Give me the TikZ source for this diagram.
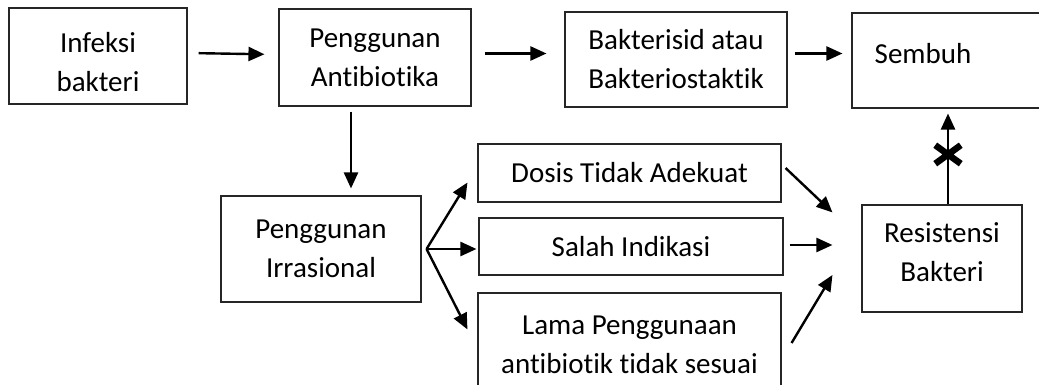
\documentclass[tikz,border=0pt]{standalone}
\usepackage{fontspec}
\setmainfont{Carlito}[Ligatures={NoCommon}]
\usetikzlibrary{arrows.meta,calc,shapes.misc}
\tikzset{
  box/.style={draw=black!85, line width=1.1pt, rectangle, inner sep=0pt, align=center,
    font=\fontsize{29pt}{39pt}\selectfont},
  arr/.style={draw=black, line width=2.4pt, -{Triangle[length=16pt,width=14pt]}},
  txt/.style={inner sep=0pt, align=center, font=\fontsize{29pt}{39pt}\selectfont},
  nocross/.style={cross out, draw=black, line width=6.5pt, minimum width=19pt, minimum height=12pt, inner sep=0pt}
}
\begin{document}
\begin{tikzpicture}[x=1pt,y=-1pt]
\useasboundingbox (0,0) rectangle (1039,385);
\clip (0,0) rectangle (1039,385);
\node[box, minimum width=178pt, minimum height=96pt] (inf) at (98,56) {};
\node[txt] (inft) at (98,62) {Infeksi\\bakteri};
\node[box, minimum width=192pt, minimum height=97pt] (ant) at (375,57.5) {Penggunan\\Antibiotika};
\node[box, minimum width=222pt, minimum height=95pt] (bak) at (676,59.5) {Bakterisid atau\\Bakteriostaktik};
\node[box, minimum width=198pt, minimum height=95pt] (sem) at (951,60.5) {};
\node[txt] (semt) at (923,54) {Sembuh};
\node[box, minimum width=200pt, minimum height=106pt] (irr) at (321,249) {Penggunan\\Irrasional};
\node[box, minimum width=303pt, minimum height=58pt] (dos) at (629.5,173) {Dosis Tidak Adekuat};
\node[box, minimum width=304pt, minimum height=57pt] (sal) at (631,246.5) {Salah Indikasi};
\node[box, minimum width=303pt, minimum height=104pt] (lam) at (629.5,345) {Lama Penggunaan\\antibiotik tidak sesuai};
\node[box, minimum width=160pt, minimum height=107pt] (res) at (942,258.5) {};
\node[txt] (rest) at (942,252) {Resistensi\\Bakteri};

\draw[arr, shorten <=11pt, shorten >=14pt] ([yshift=3pt]inf.east) -- ([yshift=3pt]ant.west);
\draw[arr, shorten <=13pt, shorten >=18pt] ([yshift=4pt]ant.east) -- ([yshift=6pt]bak.west);
\draw[arr, shorten <=7pt, shorten >=9pt] ([yshift=6pt]bak.east) -- ([yshift=7pt]sem.west);
\draw[arr, shorten <=5pt, shorten >=7pt] ([xshift=-24pt]ant.south) -- ([xshift=30pt]irr.north);

\coordinate (fan) at ([xshift=5pt]irr.east);
\draw[arr] (fan) -- ($(dos.south west)+(-10,-20)$);
\draw[arr, shorten >=2pt] (fan) -- (sal.west |- fan);
\draw[arr] (fan) -- ($(lam.north west)+(-10,37)$);

\draw[arr] ($(dos.east)+(4,-5)$) -- ($(res.north west)+(-29,8)$);
\draw[arr, shorten <=6pt, shorten >=29pt] ([yshift=1.5pt]sal.east) -- ([yshift=1.5pt]sal.east -| res.west);
\draw[arr] ($(lam.east)+(10,-2)$) -- ($(res.west)+(-29,16.5)$);

\draw[arr, shorten >=5pt] ([xshift=6pt]res.north) -- ([xshift=6pt]res.north |- sem.south);
\node[nocross] (x) at ([xshift=6pt, yshift=50pt]res.north) {};
\end{tikzpicture}
\end{document}
